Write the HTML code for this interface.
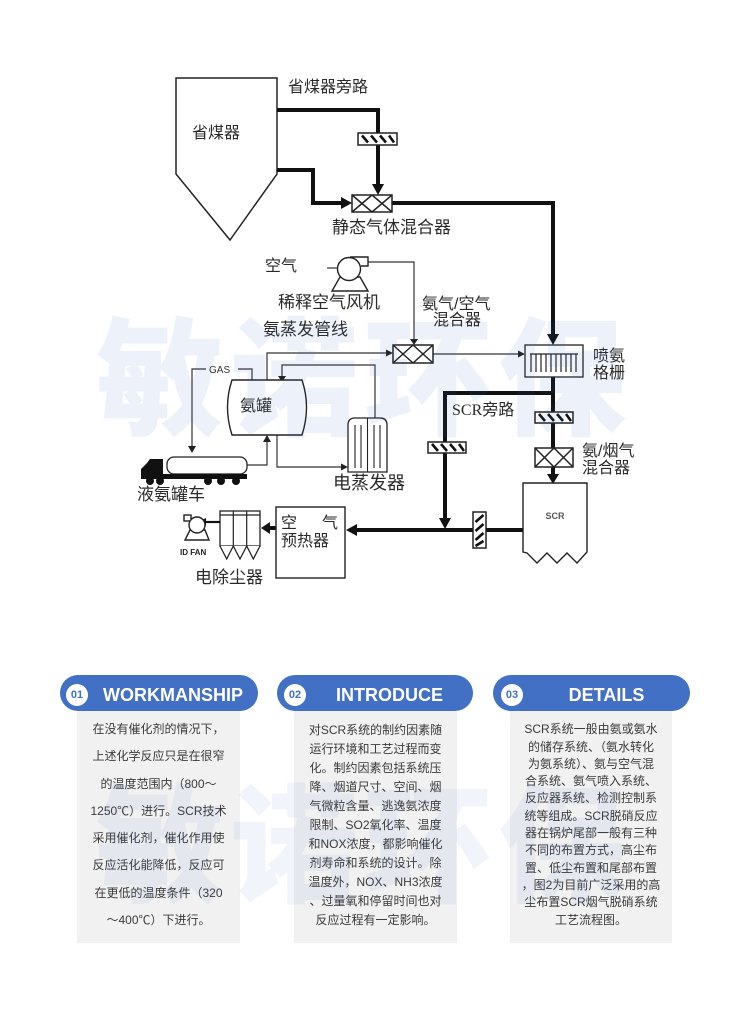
<!DOCTYPE html>
<html><head><meta charset="utf-8">
<style>
html,body{margin:0;padding:0;background:#fff;}
body{width:750px;height:1024px;position:relative;overflow:hidden;font-family:"Liberation Sans","Noto Sans CJK SC",sans-serif;}
.lbl{font-family:"Liberation Sans","Noto Sans CJK SC",sans-serif;fill:#2a2a2a;}
.pill{position:absolute;top:675px;height:36px;border-radius:18px;background:#4170c4;}
.badge{position:absolute;top:684px;width:22px;height:22px;border-radius:11px;background:#fff;color:#4170c4;font:bold 11px/22px "Liberation Sans",sans-serif;text-align:center;}
.ptxt{position:absolute;top:675px;height:38px;line-height:40px;color:#fff;font:bold 18px/40px "Liberation Sans",sans-serif;text-align:center;white-space:nowrap;}
.box{position:absolute;top:711px;height:232px;background:#f1f1f1;}
.txt{position:absolute;text-align:center;color:#3a3a3a;font-size:12px;white-space:nowrap;font-family:"Liberation Sans","Noto Sans CJK SC",sans-serif;}
.wm{position:absolute;left:96px;font-family:"Noto Sans CJK SC","WenQuanYi Zen Hei",sans-serif;font-weight:900;font-size:128px;line-height:130px;letter-spacing:6px;color:rgba(60,110,195,0.09);white-space:nowrap;pointer-events:none;z-index:5;}
</style></head><body>

<svg width="750" height="620" viewBox="0 0 750 620" style="position:absolute;left:0;top:0">
<g fill="none" stroke="#222" stroke-width="1.5">
  <polygon points="176,78 277,78 277,174 230,240 176,174"/>
</g>
<g fill="none" stroke="#111" stroke-width="4" stroke-linejoin="miter">
  <polyline points="277,110 378,110 378,186"/>
  <polyline points="277,170 313,170 313,203 344,203"/>
  <polyline points="392,203 553,203 553,336"/>
  <line x1="553" y1="377" x2="553" y2="475"/>
  <polyline points="553,393 445,393 445,519"/>
  <line x1="523" y1="530" x2="355" y2="530"/>
  <line x1="276" y1="528" x2="268" y2="528"/>
</g>
<g fill="#111">
  <polygon points="372,184 384,184 378,195"/>
  <polygon points="341,197 352,203 341,209"/>
  <polygon points="547,334 559,334 553,345"/>
  <polygon points="439,518 451,518 445,529"/>
  <polygon points="547,474 559,474 553,484"/>
  <polygon points="357,524 346,530 357,536"/>
  <polygon points="270,522 261,528 270,534"/>
</g>
<g fill="none" stroke="#333" stroke-width="1.2">
  <polyline points="368,262 414,262 414,340"/>
  <polyline points="267,380 267,353 387,353"/>
  <line x1="433" y1="354" x2="519" y2="354"/>
  <polyline points="375,418 375,365 282,365 282,377"/>
  <polyline points="252,380 252,369 238,369"/>
  <polyline points="206,369 192,369 192,447"/>
  <polyline points="247,465 267,465 267,441"/>
  <polyline points="277,435 277,467 342,467"/>
  <line x1="327" y1="268" x2="338" y2="268"/>
</g>
<g fill="#222">
  <polygon points="410,339 418,339 414,345"/>
  <polygon points="386,349.5 393,353 386,356.5"/>
  <polygon points="518,350.5 525,354 518,357.5"/>
  <polygon points="278,376 286,376 282,382"/>
  <polygon points="188,446 196,446 192,453"/>
  <polygon points="263,442 271,442 267,435"/>
  <polygon points="341,463.5 348,467 341,470.5"/>
</g>
<g fill="#fff" stroke="#222" stroke-width="1.5">
  <rect x="352" y="195" width="40" height="17"/>
  <rect x="393" y="345" width="40" height="18"/>
  <rect x="535" y="448" width="38" height="19"/>
</g>
<g stroke="#222" stroke-width="1.5">
  <line x1="352" y1="195" x2="372" y2="212"/><line x1="372" y1="195" x2="352" y2="212"/>
  <line x1="372" y1="195" x2="392" y2="212"/><line x1="392" y1="195" x2="372" y2="212"/>
  <line x1="393" y1="345" x2="413" y2="363"/><line x1="413" y1="345" x2="393" y2="363"/>
  <line x1="413" y1="345" x2="433" y2="363"/><line x1="433" y1="345" x2="413" y2="363"/>
  <line x1="535" y1="448" x2="554" y2="467"/><line x1="554" y1="448" x2="535" y2="467"/>
  <line x1="554" y1="448" x2="573" y2="467"/><line x1="573" y1="448" x2="554" y2="467"/>
</g>
<g fill="#fff" stroke="#222" stroke-width="1.5">
  <rect x="358" y="133" width="39" height="12"/>
  <rect x="428" y="442" width="38" height="11"/>
  <rect x="535" y="412" width="38" height="11"/>
  <rect x="473" y="512" width="13" height="36"/>
</g>
<g stroke="#111" stroke-width="2.6">
  <line x1="362" y1="135.5" x2="368" y2="142.5"/><line x1="371" y1="135.5" x2="377" y2="142.5"/><line x1="380" y1="135.5" x2="386" y2="142.5"/><line x1="389" y1="135.5" x2="394" y2="142.5"/>
  <line x1="432" y1="444" x2="438" y2="451"/><line x1="441" y1="444" x2="447" y2="451"/><line x1="450" y1="444" x2="456" y2="451"/><line x1="459" y1="444" x2="464" y2="451"/>
  <line x1="539" y1="414" x2="545" y2="421"/><line x1="548" y1="414" x2="554" y2="421"/><line x1="557" y1="414" x2="563" y2="421"/><line x1="566" y1="414" x2="571" y2="421"/>
  <line x1="475.5" y1="522" x2="483.5" y2="515"/><line x1="475.5" y1="531" x2="483.5" y2="524"/><line x1="475.5" y1="540" x2="483.5" y2="533"/><line x1="475.5" y1="546" x2="483.5" y2="541"/>
</g>
<g fill="#fff" stroke="#222" stroke-width="1.3">
  <rect x="525" y="345" width="58" height="32"/>
</g>
<g stroke="#222" stroke-width="1.2">
  <line x1="530" y1="354" x2="578" y2="354"/>
  <line x1="531" y1="354" x2="531" y2="372"/><line x1="536" y1="354" x2="536" y2="372"/><line x1="541" y1="354" x2="541" y2="372"/><line x1="546" y1="354" x2="546" y2="372"/><line x1="551" y1="354" x2="551" y2="372"/><line x1="556" y1="354" x2="556" y2="372"/><line x1="561" y1="354" x2="561" y2="372"/><line x1="566" y1="354" x2="566" y2="372"/><line x1="571" y1="354" x2="571" y2="372"/><line x1="576" y1="354" x2="576" y2="372"/>
</g>
<path d="M523,483 H587 V552 L577,563 L567,553 L557,563 L547,553 L537,563 L527,553 L523,552 Z" fill="#fff" stroke="#222" stroke-width="1.4"/>
<text x="555" y="519" text-anchor="middle" font-family="Liberation Sans,sans-serif" font-size="9" font-weight="bold" fill="#555">SCR</text>
<g fill="#fff" stroke="#222" stroke-width="1.4">
  <polygon points="340,277 332,291 368,291 360,277"/>
  <path d="M350,257 H368 V266 H361"/>
  <circle cx="349" cy="269" r="11.5"/>
</g>
<path d="M232,380 H302 Q311,407 302,435 H232 Q223,407 232,380 Z" fill="#fff" stroke="#222" stroke-width="1.4"/>
<g fill="#fff" stroke="#222" stroke-width="1.3">
  <path d="M348,472 V425 Q348,418 355,418 H380 Q387,418 387,425 V472 Z"/>
</g>
<g stroke="#222" stroke-width="1.1">
  <line x1="367.5" y1="418" x2="367.5" y2="472"/>
  <line x1="355" y1="425" x2="355" y2="468"/><line x1="361" y1="425" x2="361" y2="468"/>
  <line x1="374" y1="425" x2="374" y2="468"/><line x1="380" y1="425" x2="380" y2="468"/>
</g>
<rect x="167" y="457" width="80" height="17" rx="7" fill="#fff" stroke="#222" stroke-width="1.3"/>
<g fill="#111">
  <polygon points="141,476 141,469 147,463 150,459 163,459 163,476"/>
  <rect x="141" y="474" width="106" height="5"/>
  <circle cx="150" cy="481" r="4"/><circle cx="160" cy="481" r="4"/>
  <circle cx="208" cy="481" r="4"/><circle cx="221" cy="481" r="4"/><circle cx="236" cy="481" r="4"/>
</g>
<rect x="276" y="507" width="69" height="71" fill="#fff" stroke="#222" stroke-width="1.4"/>
<g fill="#fff" stroke="#222" stroke-width="1.3">
  <rect x="220" y="511" width="40" height="35"/>
  <path d="M220,546 L226.7,559 L233.3,546 L240,559 L246.7,546 L253.3,559 L260,546"/>
</g>
<g stroke="#222" stroke-width="1.2">
  <line x1="220" y1="515" x2="260" y2="515"/>
  <line x1="233.3" y1="511" x2="233.3" y2="546"/><line x1="246.7" y1="511" x2="246.7" y2="546"/>
</g>
<g stroke="#111" stroke-width="2.2"><line x1="220" y1="522" x2="204" y2="522"/></g>
<polygon points="206,518 198,522 206,526" fill="#111"/>
<g fill="#fff" stroke="#222" stroke-width="1.4">
  <polygon points="190,530 185,540 209,540 205,530"/>
  <rect x="184" y="515" width="7" height="6"/>
  <circle cx="197" cy="525" r="8"/>
</g>
<g class="lbl" font-size="16">
  <text x="192" y="138">省煤器</text>
  <text x="288" y="92">省煤器旁路</text>
  <text x="332" y="233" font-size="17">静态气体混合器</text>
  <text x="265" y="271">空气</text>
  <text x="278" y="308" font-size="17">稀释空气风机</text>
  <text x="263" y="335" font-size="17">氨蒸发管线</text>
  <text x="422" y="309">氨气/空气</text>
  <text x="433" y="325">混合器</text>
  <text x="593" y="361">喷氨</text>
  <text x="593" y="378">格栅</text>
  <text x="452" y="415" font-family="Liberation Serif,Noto Sans CJK SC,serif">SCR旁路</text>
  <text x="582" y="456">氨/烟气</text>
  <text x="582" y="473">混合器</text>
  <text x="240" y="411">氨罐</text>
  <text x="209" y="373" font-size="10" fill="#333">GAS</text>
  <text x="333" y="489" font-size="18">电蒸发器</text>
  <text x="137" y="500" font-size="17">液氨罐车</text>
  <text x="281" y="528">空</text>
  <text x="322" y="528">气</text>
  <text x="281" y="546">预热器</text>
  <text x="180" y="555" font-size="8" font-weight="bold" fill="#222">ID FAN</text>
  <text x="195" y="583" font-size="17">电除尘器</text>
</g>
</svg>

<div class="pill" style="left:60px;width:198px;"></div>
<div class="badge" style="left:66px;">01</div>
<div class="ptxt" style="left:88px;width:170px;">WORKMANSHIP</div>
<div class="box" style="left:77px;width:163px;"></div>
<div class="txt" style="left:77px;width:163px;top:716px;line-height:27.3px;">在没有催化剂的情况下，<br>上述化学反应只是在很窄<br>的温度范围内（800～<br>1250℃）进行。SCR技术<br>采用催化剂，催化作用使<br>反应活化能降低，反应可<br>在更低的温度条件（320<br>～400℃）下进行。</div>

<div class="pill" style="left:277px;width:196px;"></div>
<div class="badge" style="left:284px;">02</div>
<div class="ptxt" style="left:306px;width:167px;">INTRODUCE</div>
<div class="box" style="left:294px;width:163px;"></div>
<div class="txt" style="left:294px;width:163px;top:720.5px;line-height:19.1px;">对SCR系统的制约因素随<br>运行环境和工艺过程而变<br>化。制约因素包括系统压<br>降、烟道尺寸、空间、烟<br>气微粒含量、逃逸氨浓度<br>限制、SO2氧化率、温度<br>和NOX浓度，都影响催化<br>剂寿命和系统的设计。除<br>温度外，NOX、NH3浓度<br>、过量氧和停留时间也对<br>反应过程有一定影响。</div>

<div class="pill" style="left:493px;width:197px;"></div>
<div class="badge" style="left:501px;">03</div>
<div class="ptxt" style="left:523px;width:167px;">DETAILS</div>
<div class="box" style="left:510px;width:162px;"></div>
<div class="txt" style="left:510px;width:162px;top:721.3px;line-height:17.3px;">SCR系统一般由氨或氨水<br>的储存系统、（氨水转化<br>为氨系统）、氨与空气混<br>合系统、氨气喷入系统、<br>反应器系统、检测控制系<br>统等组成。SCR脱硝反应<br>器在锅炉尾部一般有三种<br>不同的布置方式，高尘布<br>置、低尘布置和尾部布置<br>，图2为目前广泛采用的高<br>尘布置SCR烟气脱硝系统<br>工艺流程图。</div>

<div class="wm" style="top:305px;">敏诺环保</div>
<div class="wm" style="top:772px;color:rgba(60,110,195,0.07);">敏诺环保</div>

</body></html>
